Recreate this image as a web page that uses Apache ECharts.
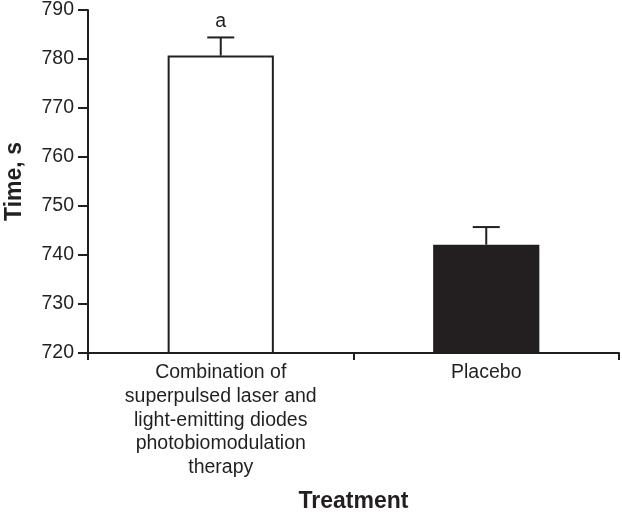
<!DOCTYPE html>
<html>
<head>
<meta charset="utf-8">
<script src="https://cdn.jsdelivr.net/npm/echarts@6/dist/echarts.min.js"></script>
<style>html,body{margin:0;padding:0;background:#fff;}#c{width:622px;height:513px;}</style>
</head>
<body>
<div id="c"></div>
<script>
const categories = ['Combination of\nsuperpulsed laser and\nlight-emitting diodes\nphotobiomodulation\ntherapy', 'Placebo'];
const means = [780.7, 742.1];
const errors = [3.7, 3.6];
const sigLetters = ['a', ''];
const yTicks = {min: 720, max: 790, interval: 10};

const ink = '#231f20';
const chart = echarts.init(document.getElementById('c'));
chart.setOption({
  animation: false,
  grid: {left: 88, right: 3, top: 10, bottom: 160, outerBoundsMode: 'none', containLabel: false},
  xAxis: {
    type: 'category',
    data: categories,
    axisLine: {lineStyle: {color: ink, width: 2}},
    axisTick: {show: true, alignWithLabel: false, length: 7, lineStyle: {color: ink, width: 2}},
    axisLabel: {color: ink, fontFamily: 'Liberation Sans, Arial', fontSize: 19.5, lineHeight: 23.7, margin: 8, interval: 0},
    name: 'Treatment',
    nameLocation: 'middle',
    nameGap: 137,
    nameTextStyle: {color: ink, fontFamily: 'Liberation Sans, Arial', fontSize: 23, fontWeight: 'bold'}
  },
  yAxis: {
    type: 'value',
    min: yTicks.min, max: yTicks.max, interval: yTicks.interval,
    axisLine: {show: true, lineStyle: {color: ink, width: 2}},
    axisTick: {show: true, length: 10, lineStyle: {color: ink, width: 2}},
    splitLine: {show: false},
    axisLabel: {color: ink, fontFamily: 'Liberation Sans, Arial', fontSize: 19.5, margin: 14},
    name: 'Time, s',
    nameLocation: 'middle',
    nameGap: 62,
    nameTextStyle: {color: ink, fontFamily: 'Liberation Sans, Arial', fontSize: 23, fontWeight: 'bold'}
  },
  series: [
    {
      type: 'bar',
      barWidth: '40%',
      data: means.map((v, i) => ({
        value: v,
        itemStyle: i === 0
          ? {color: '#ffffff', borderColor: ink, borderWidth: 2}
          : {color: ink, borderColor: ink, borderWidth: 2}
      })),
      z: 2
    },
    {
      type: 'custom',
      z: 3,
      data: means.map((m, i) => [i, m, m + errors[i]]),
      renderItem: function (params, api) {
        const i = api.value(0);
        const base = api.coord([i, api.value(1)]);
        const top = api.coord([i, api.value(2)]);
        const hw = 13.5;
        const children = [
          {type: 'line', shape: {x1: base[0], y1: base[1], x2: top[0], y2: top[1]}, style: {stroke: ink, lineWidth: 2}},
          {type: 'line', shape: {x1: top[0] - hw, y1: top[1], x2: top[0] + hw, y2: top[1]}, style: {stroke: ink, lineWidth: 2}}
        ];
        const letter = sigLetters[params.dataIndex];
        if (letter) {
          children.push({type: 'text', x: top[0], y: top[1] - 6, style: {text: letter, fill: ink, font: '19.5px "Liberation Sans", Arial', textAlign: 'center', textVerticalAlign: 'bottom'}});
        }
        return {type: 'group', children: children};
      }
    }
  ]
});
</script>
</body>
</html>
